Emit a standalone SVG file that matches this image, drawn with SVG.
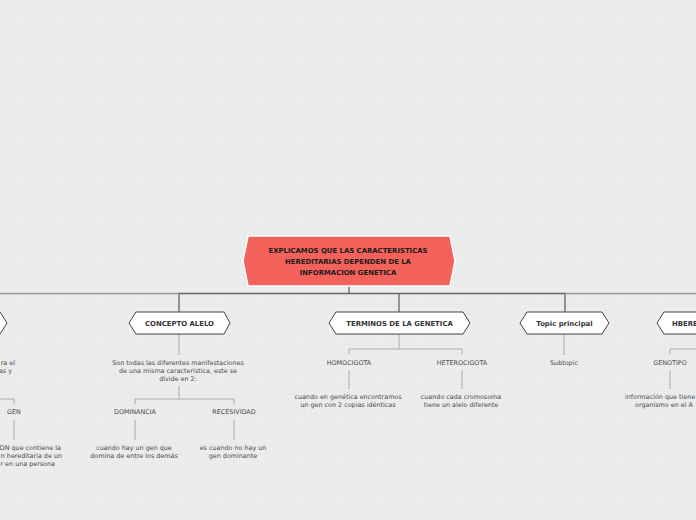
<svg xmlns="http://www.w3.org/2000/svg" width="696" height="520" viewBox="0 0 696 520">
<style>
.bg{fill:#ececec}
.main{fill:#f2625a;stroke:#ffffff;stroke-width:1.5}
.mt{font-family:"DejaVu Sans",Verdana,sans-serif;font-size:6.9px;font-weight:bold;fill:#1a1a1a;text-anchor:middle}
.n1{fill:#ffffff;stroke:#444444;stroke-width:1}
.t1{font-family:"DejaVu Sans",Verdana,sans-serif;font-size:6.9px;font-weight:bold;fill:#333333;text-anchor:middle}
.t2{font-family:"DejaVu Sans",Verdana,sans-serif;font-size:6.4px;fill:#4a4a4a;text-anchor:middle}
.e{text-anchor:end}
.s{text-anchor:start}
.cd{fill:none;stroke:#666666;stroke-width:1.3}
.cm{fill:none;stroke:#999999;stroke-width:1.3}
.cl{fill:none;stroke:#aaaaaa;stroke-width:1}
</style>
<defs>
<pattern id="grid" x="4" y="4" width="10" height="10" patternUnits="userSpaceOnUse">
<path d="M10 0H0V10" fill="none" stroke="#e3e3e3" stroke-width="1"/>
</pattern>
</defs>
<rect class="bg" width="696" height="520"/>
<rect width="696" height="520" fill="url(#grid)"/>

<g id="connectors">
<path class="cd" d="M349 286V293"/>
<path class="cm" d="M0 293.5H179M565 293.5H696"/>
<path class="cd" d="M179 293.5H565M179 293V312M399 293V312M565 293V312"/>
<path class="cl" d="M179 334V355M179 386V399M135 404V399H234V404M135 420V440M234 420V440"/>
<path class="cl" d="M399 334V349M349 354V349H462V354M349 370V389M462 370V389"/>
<path class="cl" d="M564 334V355"/>
<path class="cl" d="M670 354V349H696M670 370V389"/>
<path class="cl" d="M0 399H14V404M14 420V440"/>
</g>

<g id="central">
<polygon class="main" points="248,236 450,236 455,261 450,286 248,286 243,261"/>
<text class="mt" x="348" y="253">EXPLICAMOS QUE LAS CARACTERISTICAS</text>
<text class="mt" x="348" y="264">HEREDITARIAS DEPENDEN DE LA</text>
<text class="mt" x="348" y="275">INFORMACION GENETICA</text>
</g>

<g id="left-topic">
<polygon class="n1" points="-100,312 0,312 7,323 0,334 -100,334"/>
<text class="t2 e" x="15" y="365">ra el</text>
<text class="t2 e" x="12" y="373">as y</text>
<text class="t2" x="14" y="414">GEN</text>
<text class="t2 e" x="61" y="450">DN que contiene la</text>
<text class="t2 e" x="62" y="458">n hereditaria de un</text>
<text class="t2 e" x="55" y="466">r en una persona</text>
</g>

<g id="concepto-alelo">
<polygon class="n1" points="136,312 224,312 230,323 224,334 136,334 129,323"/>
<text class="t1" x="179.5" y="325.5">CONCEPTO ALELO</text>
<text class="t2" x="178" y="365">Son todas las diferentes manifestaciones</text>
<text class="t2" x="178" y="373">de una misma característica, este se</text>
<text class="t2" x="178" y="381">divide en 2:</text>
</g>
<g id="dominancia">
<text class="t2" x="135" y="414">DOMINANCIA</text>
<text class="t2" x="134" y="450">cuando hay un gen que</text>
<text class="t2" x="134" y="458">domina de entre los demás</text>
</g>
<g id="recesividad">
<text class="t2" x="234" y="414">RECESIVIDAD</text>
<text class="t2" x="233" y="450">es cuando no hay un</text>
<text class="t2" x="233" y="458">gen dominante</text>
</g>

<g id="terminos">
<polygon class="n1" points="336,312 463,312 470,323 463,334 336,334 329,323"/>
<text class="t1" x="399.5" y="325.5">TERMINOS DE LA GENETICA</text>
</g>
<g id="homocigota">
<text class="t2" x="349" y="365">HOMOCIGOTA</text>
<text class="t2" x="348" y="399">cuando en genética encontramos</text>
<text class="t2" x="348" y="407">un gen con 2 copias idénticas</text>
</g>
<g id="heterocigota">
<text class="t2" x="462" y="365">HETEROCIGOTA</text>
<text class="t2" x="461" y="399">cuando cada cromosoma</text>
<text class="t2" x="461" y="407">tiene un alelo diferente</text>
</g>

<g id="topic-principal">
<polygon class="n1" points="527,312 602,312 609,323 602,334 527,334 520,323"/>
<text class="t1" x="564.5" y="325.5">Topic principal</text>
<text class="t2" x="564" y="365">Subtopic</text>
</g>

<g id="hbere">
<polygon class="n1" points="664,312 760,312 760,334 664,334 657,323"/>
<text class="t1 s" x="672" y="325.5">HBERE</text>
<text class="t2" x="670" y="365">GENOTIPO</text>
<text class="t2 s" x="625" y="399">información que tiene</text>
<text class="t2 s" x="635" y="407">organismo en el A</text>
</g>
</svg>
